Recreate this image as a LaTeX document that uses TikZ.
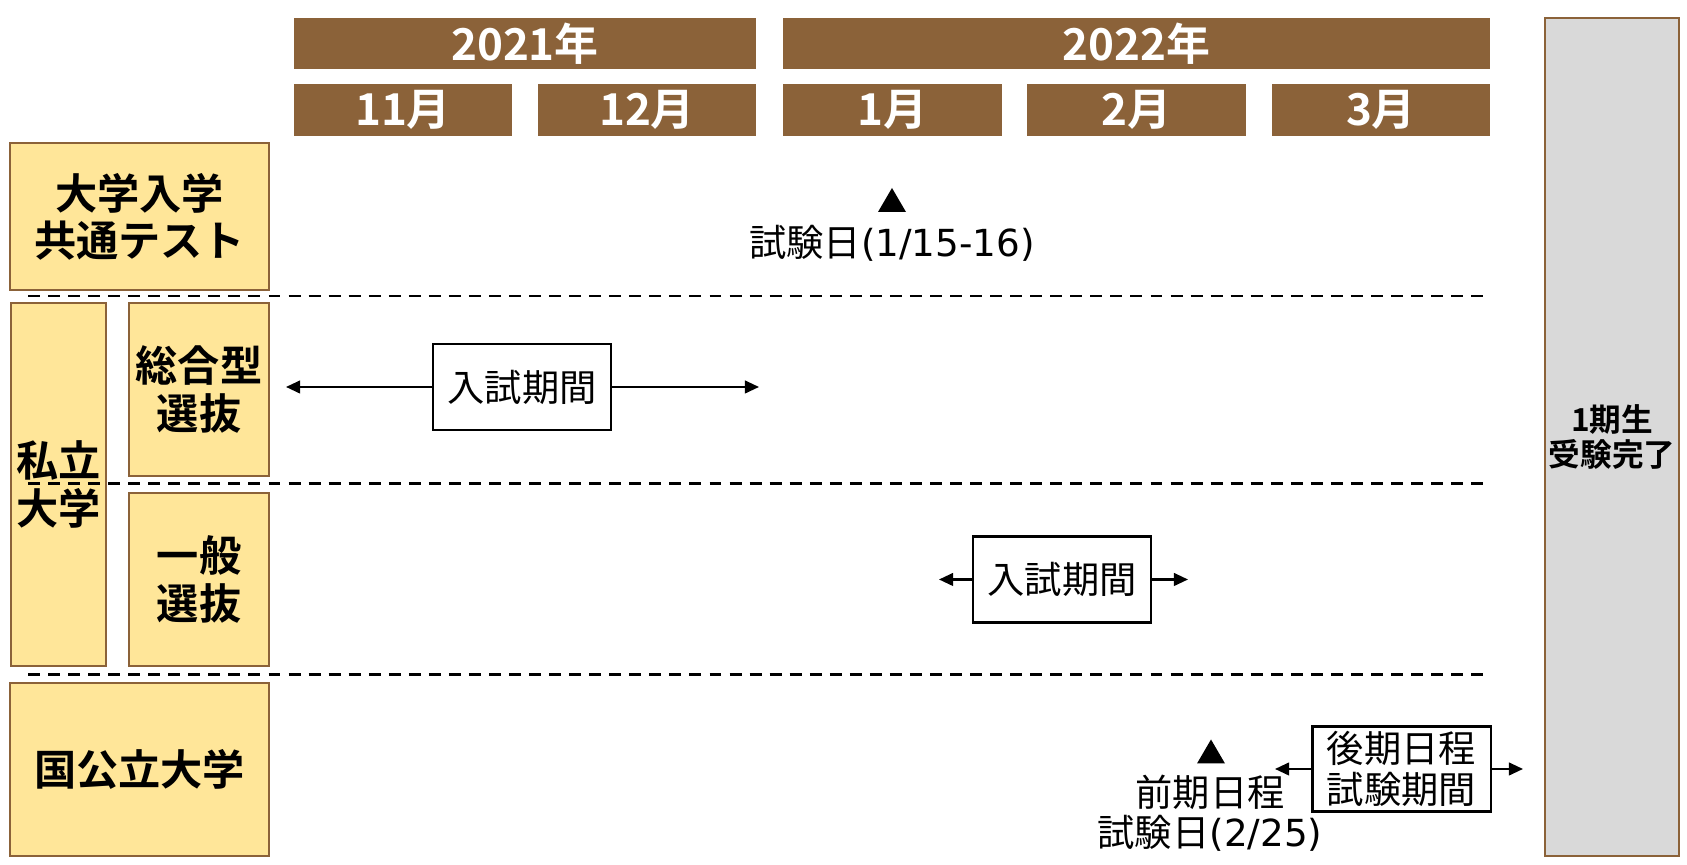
\documentclass[tikz,border=0pt]{standalone}
\usepackage{fontspec}
\setmainfont{Noto Sans CJK JP}[BoldFont={Noto Sans CJK JP Bold}]
\newfontfamily\latinpart{DejaVu Sans}
\usetikzlibrary{arrows.meta}
\definecolor{barbrown}{RGB}{139,98,57}
\definecolor{boxyellow}{RGB}{255,230,153}
\definecolor{donegray}{RGB}{217,217,217}
\begin{document}
\begin{tikzpicture}[x=0.01cm,y=-0.01cm,>={Triangle[length=4pt,width=3.6pt]},
  yearbar/.style={fill=barbrown,text=white,inner sep=0pt,minimum height=0.51cm,
    font=\fontsize{12.5}{14}\selectfont\bfseries},
  monthbar/.style={yearbar,minimum width=2.18cm,minimum height=0.52cm},
  catbox/.style={draw=barbrown,line width=0.6pt,fill=boxyellow,align=center,inner sep=0pt,
    font=\fontsize{12}{13.4}\selectfont\bfseries},
  donebox/.style={draw=barbrown,line width=0.6pt,fill=donegray,align=center,inner sep=0pt,
    font=\fontsize{9}{9.7}\selectfont\bfseries},
  periodbox/.style={draw,line width=0.6pt,fill=white,align=center,inner sep=0pt,
    minimum width=1.78cm,minimum height=0.86cm,font=\fontsize{10.6}{11.6}\selectfont},
  datetext/.style={align=center,inner sep=0pt,font=\fontsize{10.6}{11.4}\selectfont},
  sepline/.style={dashed,dash pattern=on 3.4pt off 2.3pt,line width=0.8pt},
  span/.style={->,line width=0.6pt}]
\useasboundingbox (0,0) rectangle (1687,865);
% years and months
\node[yearbar,minimum width=4.62cm] (y2021) at (525,43.5) {2021年};
\node[yearbar,minimum width=7.07cm] (y2022) at (1136.5,43.5) {2022年};
\node[monthbar] (m11) at (403,110) {11月};
\node[monthbar] (m12) at (647,110) {12月};
\node[monthbar] (m1) at (892.5,110) {1月};
\node[monthbar] (m2) at (1136.5,110) {2月};
\node[monthbar] (m3) at (1381,110) {3月};
% row heads
\node[catbox,minimum width=2.59cm,minimum height=1.47cm] (kyotsu) at (139.5,216.5) {大学入学\\共通テスト};
\node[catbox,minimum width=0.95cm,minimum height=3.63cm] (shiritsu) at (58.5,484.5) {私立\\大学};
\node[catbox,minimum width=1.40cm,minimum height=1.73cm] (sogo) at (199,389.5) {総合型\\選抜};
\node[catbox,minimum width=1.40cm,minimum height=1.73cm] (ippan) at (199,579.5) {一般\\選抜};
\node[catbox,minimum width=2.59cm,minimum height=1.73cm] (kokko) at (139.5,769.5) {国公立大学};
\node[donebox,minimum width=1.34cm,minimum height=8.38cm] (done) at (1612,437) {1期生\\受験完了};
% separators
\coordinate (s1a) at (28,296); \coordinate (s1b) at (1490,296);
\coordinate (s2a) at (28,483.5); \coordinate (s2b) at (1490,483.5);
\coordinate (s3a) at (28,674.5); \coordinate (s3b) at (1490,674.5);
\draw[sepline] (s1a) -- (s1b);
\draw[sepline] (s2a) -- (s2b);
\draw[sepline] (s3a) -- (s3b);
% common test date
\coordinate (t1) at (892,200);
\fill (t1) ++(-14,12) -- ++(28,0) -- ++(-14,-24) -- cycle;
\node[datetext] (d1) at (892,243) {試験日{\latinpart (1/15-16)}};
% private, comprehensive
\node[periodbox] (p1) at (522,387) {入試期間};
\coordinate (p1l) at (286,387); \coordinate (p1r) at (759,387);
\draw[span] (p1.west) -- (p1l);
\draw[span] (p1.east) -- (p1r);
% private, general
\node[periodbox] (p2) at (1062,579.5) {入試期間};
\coordinate (p2l) at (939,579.5); \coordinate (p2r) at (1188,579.5);
\draw[span] (p2.west) -- (p2l);
\draw[span] (p2.east) -- (p2r);
% national
\coordinate (t2) at (1211,751.5);
\fill (t2) ++(-14,12) -- ++(28,0) -- ++(-14,-24) -- cycle;
\node[datetext] (d2) at (1210,813) {前期日程\\試験日{\latinpart (2/25)}};
\node[periodbox,minimum height=0.85cm] (p3) at (1401.5,769) {後期日程\\試験期間};
\coordinate (p3l) at (1275,769); \coordinate (p3r) at (1523,769);
\draw[span] (p3.west) -- (p3l);
\draw[span] (p3.east) -- (p3r);
\end{tikzpicture}
\end{document}
